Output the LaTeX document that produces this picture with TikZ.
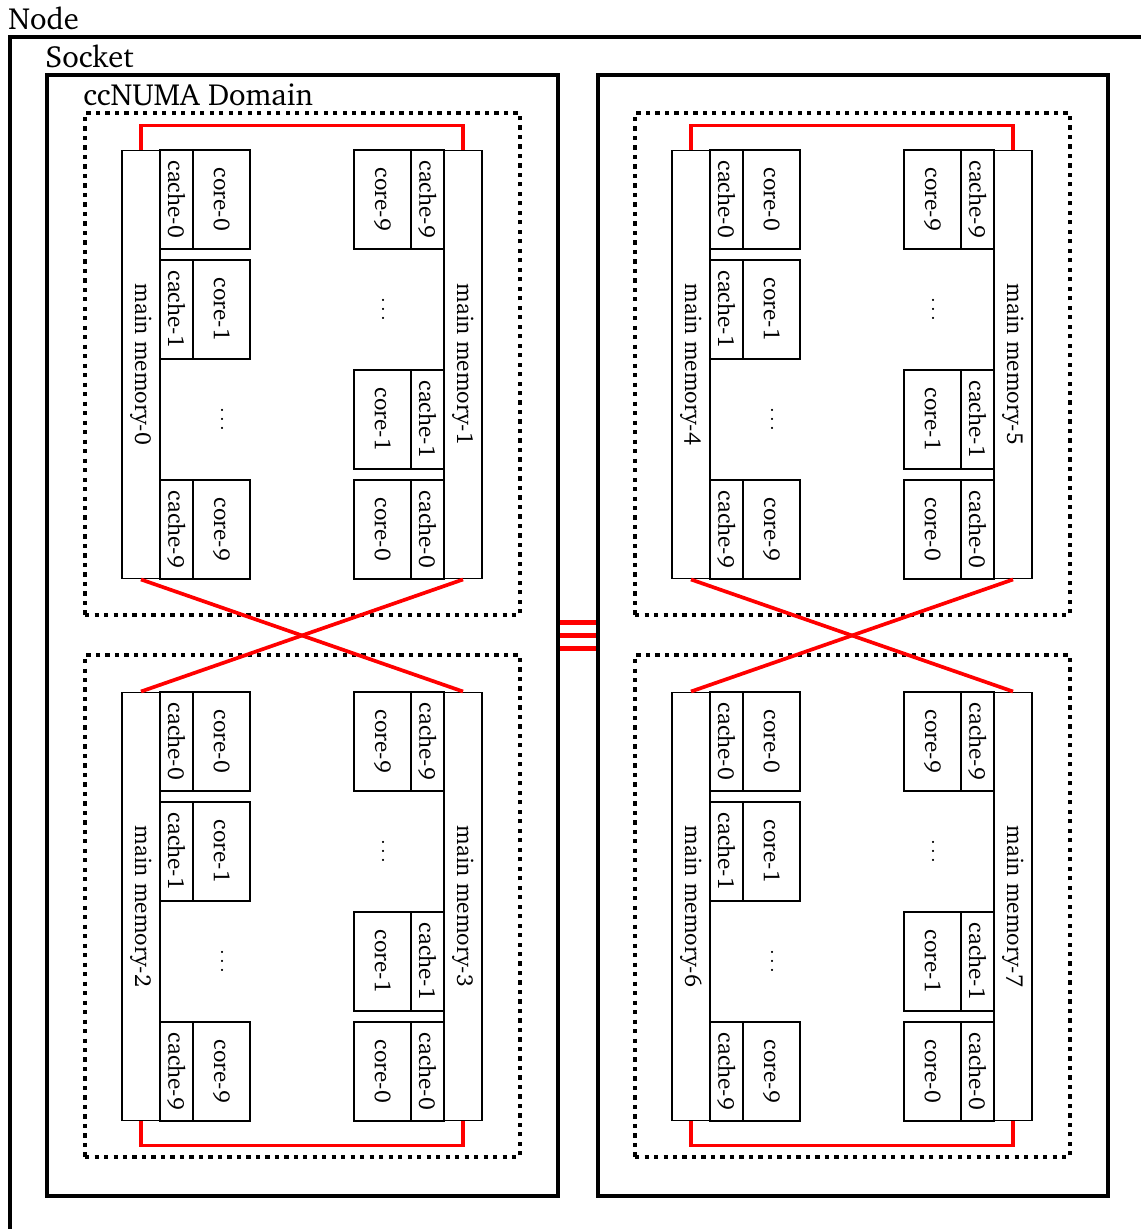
\documentclass[tikz,border=0pt]{standalone}
\usepackage[T1]{fontenc}
\usepackage{charter}

\begin{document}
\begin{tikzpicture}[x=0.02cm, y=-0.02cm,
  every node/.style={font=\fontsize{13.2}{15}\selectfont},
  lbl/.style={anchor=base west, inner sep=0pt, yshift=2.9pt,
              font=\fontsize{17.4}{20}\selectfont},
  outerbox/.style={rectangle, draw, line width=2.3pt, minimum width=23.2cm,
                   minimum height=24.44cm},
  socket/.style={rectangle, draw, line width=2.3pt, minimum width=10.22cm,
                 minimum height=22.42cm},
  numabox/.style={rectangle, draw, line width=2.4pt, dash pattern=on 2.4pt off 3pt,
                  minimum width=8.7cm, minimum height=10.04cm},
  mem/.style={rectangle, draw, line width=0.6pt, inner sep=1pt,
              minimum width=0.76cm, minimum height=8.58cm},
  cache/.style={rectangle, draw, line width=0.6pt, inner sep=1pt,
                minimum width=0.66cm, minimum height=1.98cm},
  core/.style={rectangle, draw, line width=0.6pt, inner sep=1pt,
               minimum width=1.14cm, minimum height=1.98cm},
  link/.style={red, line width=2.1pt},
  bus/.style={red, line width=2.5pt},
]
  \useasboundingbox (0,0) rectangle (1140,1229);

  \node[outerbox, label={[lbl]north west:Node}] (nodebox) at (590,648) {};
  \node[socket, label={[lbl]north west:Socket}] (sock0) at (302.5,635.5) {};
  \node[socket] (sock1) at (853,635.5) {};

  % four ccNUMA domains, two per socket
  \foreach \ox/\oy/\a/\b in {0/0/0/1, 0/542/2/3, 550/0/4/5, 550/542/6/7} {
    \node[numabox] (dom\a) at (302.5+\ox,364+\oy) {};
    \node[mem] (mem\a) at (141+\ox,364.5+\oy) {\rotatebox{-90}{main memory-\a}};
    \node[mem] (mem\b) at (463+\ox,364.5+\oy) {\rotatebox{-90}{main memory-\b}};
    % left column
    \foreach \k/\y in {0/199.5, 1/309.5, 9/529.5} {
      \node[cache] (ca\a-\k) at (176.5+\ox,\y+\oy) {\rotatebox{-90}{cache-\k}};
      \node[core] (co\a-\k) at (221.5+\ox,\y+\oy) {\rotatebox{-90}{core-\k}};
    }
    \node (dots\a) at (221.5+\ox,419.5+\oy) {\rotatebox{-90}{$\cdots$}};
    % right column
    \foreach \k/\y in {9/199.5, 1/419.5, 0/529.5} {
      \node[cache] (ca\b-\k) at (427.5+\ox,\y+\oy) {\rotatebox{-90}{cache-\k}};
      \node[core] (co\b-\k) at (382.5+\ox,\y+\oy) {\rotatebox{-90}{core-\k}};
    }
    \node (dots\b) at (382.5+\ox,309.5+\oy) {\rotatebox{-90}{$\cdots$}};
  }
  \node[lbl] at (dom0.north west) {ccNUMA Domain};

  % memory links
  \draw[link] (mem0.north) -- ++(0,-24) -| (mem1.north);
  \draw[link] (mem0.south) -- (mem3.north);
  \draw[link] (mem1.south) -- (mem2.north);
  \draw[link] (mem2.south) -- ++(0,24) -| (mem3.south);
  \draw[link] (mem4.north) -- ++(0,-24) -| (mem5.north);
  \draw[link] (mem4.south) -- (mem7.north);
  \draw[link] (mem5.south) -- (mem6.north);
  \draw[link] (mem6.south) -- ++(0,24) -| (mem7.south);

  % socket interconnect
  \foreach \dy in {-0.26,0,0.26}
    \draw[bus] ([yshift=\dy cm]sock0.east) -- ([yshift=\dy cm]sock1.west);
\end{tikzpicture}
\end{document}
